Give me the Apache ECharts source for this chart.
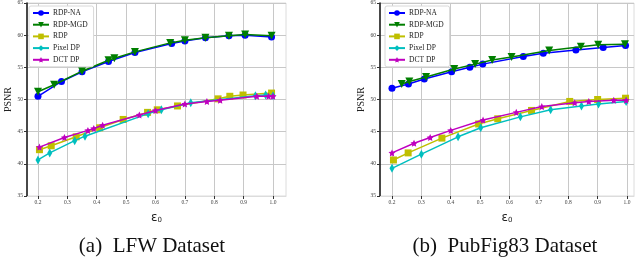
<!DOCTYPE html>
<html><head><meta charset="utf-8">
<script src="https://cdn.jsdelivr.net/npm/echarts@6/dist/echarts.min.js"></script>
<style>html,body{margin:0;padding:0;background:#fff}#c{width:640px;height:262px}</style>
</head><body><div id="c"></div>
<script>
// ---- data ----
const seriesNames = ['RDP-NA', 'RDP-MGD', 'RDP', 'Pixel DP', 'DCT DP'];
const epsTicks = [0.2, 0.3, 0.4, 0.5, 0.6, 0.7, 0.8, 0.9, 1.0];
const captions = ['(a)  LFW Dataset', '(b)  PubFig83 Dataset'];

// LFW panel
const lfwNA_eps  = [0.2, 0.28, 0.35, 0.44, 0.53, 0.655, 0.7, 0.77, 0.85, 0.905, 0.995];
const lfwNA_psnr = [50.5, 52.8, 54.3, 55.9, 57.3, 58.7, 59.1, 59.6, 59.9, 60.0, 59.7];
const lfwMGD_eps  = [0.2, 0.255, 0.35, 0.44, 0.46, 0.53, 0.65, 0.7, 0.77, 0.85, 0.905, 0.995];
const lfwMGD_psnr = [51.2, 52.3, 54.4, 56.1, 56.4, 57.4, 58.8, 59.2, 59.6, 59.9, 60.1, 59.9];
const lfwRDP_eps  = [0.205, 0.245, 0.33, 0.41, 0.49, 0.573, 0.606, 0.675, 0.813, 0.853, 0.898, 0.995];
const lfwRDP_psnr = [42.2, 42.8, 44.2, 45.6, 46.9, 48.0, 48.4, 49.0, 50.1, 50.5, 50.7, 51.0];
const lfwPix_eps  = [0.2, 0.24, 0.325, 0.36, 0.575, 0.62, 0.72, 0.94, 0.975, 1.0];
const lfwPix_psnr = [40.6, 41.7, 43.6, 44.3, 47.8, 48.4, 49.5, 50.6, 50.7, 50.6];
const lfwDCT_eps  = [0.205, 0.29, 0.37, 0.39, 0.42, 0.545, 0.6, 0.7, 0.775, 0.82, 0.945, 0.985, 1.0];
const lfwDCT_psnr = [42.6, 44.1, 45.2, 45.5, 46.0, 47.6, 48.3, 49.3, 49.7, 49.9, 50.5, 50.5, 50.5];

// PubFig83 panel
const pubNA_eps  = [0.2, 0.256, 0.31, 0.403, 0.465, 0.509, 0.647, 0.715, 0.826, 0.919, 0.995];
const pubNA_psnr = [51.75, 52.4, 53.2, 54.3, 55.0, 55.5, 56.7, 57.2, 57.7, 58.1, 58.4];
const pubMGD_eps  = [0.233, 0.259, 0.316, 0.412, 0.483, 0.541, 0.607, 0.735, 0.843, 0.902, 0.993];
const pubMGD_psnr = [52.4, 52.8, 53.5, 54.75, 55.5, 56.15, 56.6, 57.6, 58.2, 58.5, 58.6];
const pubRDP_eps  = [0.205, 0.255, 0.37, 0.495, 0.56, 0.675, 0.805, 0.9, 0.995];
const pubRDP_psnr = [40.6, 41.7, 44.0, 46.2, 47.0, 48.3, 49.7, 50.0, 50.2];
const pubPix_eps  = [0.2, 0.3, 0.425, 0.502, 0.637, 0.74, 0.845, 0.903, 0.997];
const pubPix_psnr = [39.3, 41.5, 44.2, 45.6, 47.3, 48.4, 49.0, 49.3, 49.7];
const pubDCT_eps  = [0.2, 0.275, 0.33, 0.4, 0.51, 0.623, 0.71, 0.822, 0.87, 0.955, 0.997];
const pubDCT_psnr = [41.7, 43.2, 44.1, 45.2, 46.8, 48.0, 48.9, 49.5, 49.7, 49.9, 49.9];

// ---- styling ----
const zip = (a, b) => a.map((v, i) => [v, b[i]]);
const STAR = 'path://M0,-10 L2.9,-4 L9.5,-3.1 L4.7,1.5 L5.9,8.1 L0,5 L-5.9,8.1 L-4.7,1.5 L-9.5,-3.1 L-2.9,-4 Z';
const styles = [
  {color: '#0000ff', symbol: 'circle', symbolSize: 7},
  {color: '#007f00', symbol: 'triangle', symbolSize: 8, symbolRotate: 180},
  {color: '#bfbf00', symbol: 'rect', symbolSize: 7},
  {color: '#00bfbf', symbol: 'diamond', symbolSize: [5, 9]},
  {color: '#bf00bf', symbol: STAR, symbolSize: 7}
];
const panels = [
  [zip(lfwNA_eps, lfwNA_psnr), zip(lfwMGD_eps, lfwMGD_psnr), zip(lfwRDP_eps, lfwRDP_psnr), zip(lfwPix_eps, lfwPix_psnr), zip(lfwDCT_eps, lfwDCT_psnr)],
  [zip(pubNA_eps, pubNA_psnr), zip(pubMGD_eps, pubMGD_psnr), zip(pubRDP_eps, pubRDP_psnr), zip(pubPix_eps, pubPix_psnr), zip(pubDCT_eps, pubDCT_psnr)]
];
const FONT = 'Liberation Serif';
const grids = [
  {left: 27, top: 3, width: 259, height: 193, xmin: 0.1626, xmax: 1.0442, legendLeft: 29, capX: 152},
  {left: 380, top: 3, width: 254, height: 193, xmin: 0.1592, xmax: 1.0238, legendLeft: 385, capX: 505}
];

const series = [];
panels.forEach((p, gi) => {
  p.forEach((d, si) => {
    const s = styles[si];
    series.push({
      name: seriesNames[si], type: 'line', xAxisIndex: gi, yAxisIndex: gi,
      data: d, symbol: s.symbol, symbolSize: s.symbolSize, symbolRotate: s.symbolRotate || 0,
      showAllSymbol: true, animation: false, z: 2 + si,
      lineStyle: {color: s.color, width: 1.5},
      itemStyle: {color: s.color}
    });
  });
});

const option = {
  backgroundColor: '#fff',
  animation: false,
  title: grids.map((g, gi) => ({
    text: captions[gi], left: g.capX, top: 236, textAlign: 'center', padding: 0,
    textStyle: {fontFamily: FONT, fontSize: 21, fontWeight: 'normal', color: '#111'}
  })),
  legend: grids.map((g, gi) => ({
    data: seriesNames, orient: 'vertical', left: g.legendLeft, top: 6,
    itemWidth: 16, itemHeight: 7, itemGap: 3.7, padding: [3, 6, 3, 3],
    backgroundColor: '#fff', borderColor: '#d8d8d8', borderWidth: 1, borderRadius: 2,
    textStyle: {fontFamily: FONT, fontSize: 7.5, color: '#222', padding: [0, 0, 0, -1]}
  })),
  grid: grids.map(g => ({left: g.left, top: g.top, width: g.width, height: g.height,
    show: true, borderColor: '#dcdcdc', borderWidth: 1, backgroundColor: 'transparent'})),
  xAxis: grids.map((g, gi) => ({
    type: 'value', gridIndex: gi, min: g.xmin, max: g.xmax,
    name: 'ε{s|0}', nameLocation: 'middle', nameGap: 15,
    nameTextStyle: {fontFamily: 'DejaVu Sans', fontSize: 12, color: '#222',
      rich: {s: {fontSize: 7, verticalAlign: 'bottom', padding: [6, 0, 0, 0], fontFamily: 'DejaVu Sans', color: '#222'}}},
    axisLine: {show: true, lineStyle: {color: '#dcdcdc', width: 1}},
    axisTick: {show: true, length: 3, lineStyle: {color: '#333', width: 1}, customValues: epsTicks},
    axisLabel: {customValues: epsTicks, fontFamily: FONT, fontSize: 5.5, color: '#444', margin: 4,
      formatter: v => v.toFixed(1)},
    splitLine: {show: true, lineStyle: {color: '#c8c8c8', width: 1}}
  })),
  yAxis: grids.map((g, gi) => ({
    type: 'value', gridIndex: gi, min: 35, max: 65, interval: 5,
    name: 'PSNR', nameLocation: 'middle', nameGap: 14, nameRotate: 90,
    nameTextStyle: {fontFamily: FONT, fontSize: 10, color: '#222'},
    axisLine: {show: true, lineStyle: {color: '#111', width: 1.5}},
    axisTick: {show: true, length: 3, lineStyle: {color: '#333', width: 1}},
    axisLabel: {fontFamily: FONT, fontSize: 5.5, color: '#444', margin: 4},
    splitLine: {show: true, lineStyle: {color: '#c8c8c8', width: 1}}
  })),
  series: series
};
const chart = echarts.init(document.getElementById('c'), null, {renderer: 'canvas'});
chart.setOption(option);
</script></body></html>
